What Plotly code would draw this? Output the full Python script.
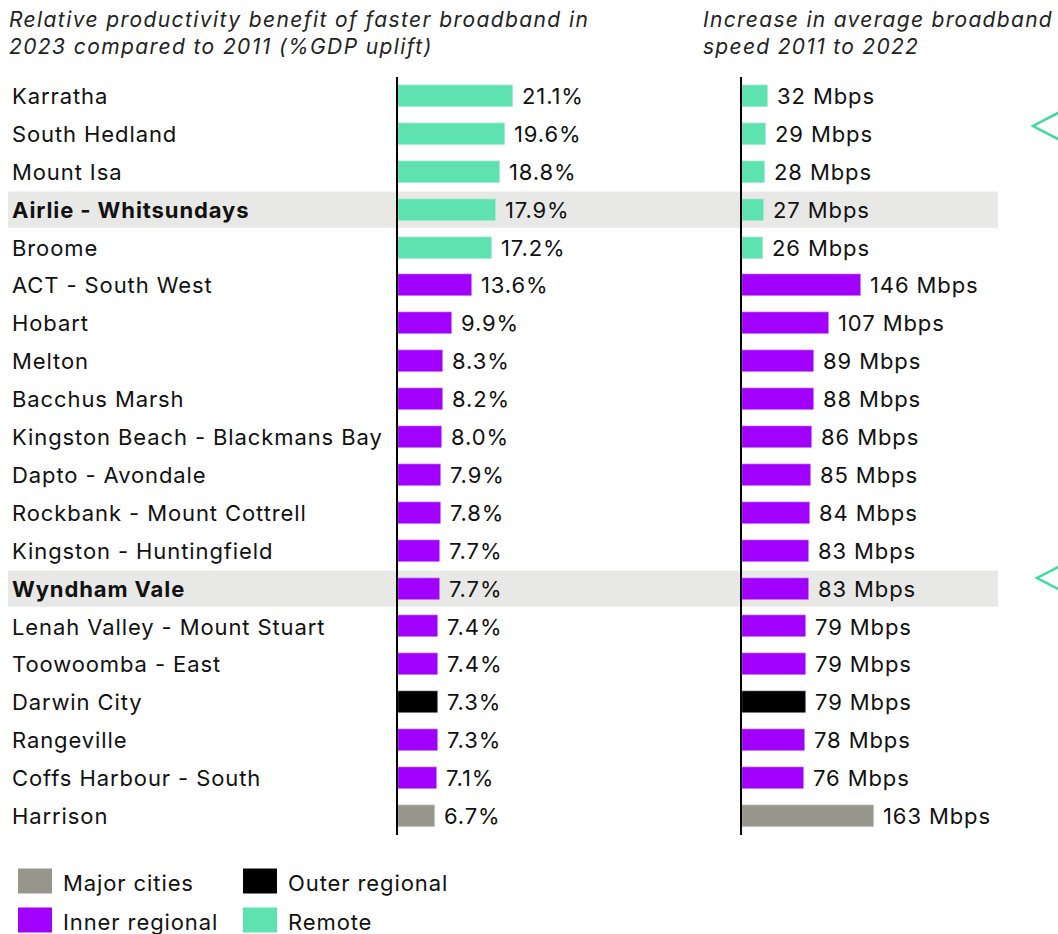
import plotly.graph_objects as go

regions = ["Karratha", "South Hedland", "Mount Isa", "Airlie - Whitsundays", "Broome",
           "ACT - South West", "Hobart", "Melton", "Bacchus Marsh", "Kingston Beach - Blackmans Bay",
           "Dapto - Avondale", "Rockbank - Mount Cottrell", "Kingston - Huntingfield", "Wyndham Vale",
           "Lenah Valley - Mount Stuart", "Toowoomba - East", "Darwin City", "Rangeville",
           "Coffs Harbour - South", "Harrison"]
gdp_uplift = [21.1, 19.6, 18.8, 17.9, 17.2, 13.6, 9.9, 8.3, 8.2, 8.0, 7.9, 7.8, 7.7, 7.7,
              7.4, 7.4, 7.3, 7.3, 7.1, 6.7]
speed_increase = [32, 29, 28, 27, 26, 146, 107, 89, 88, 86, 85, 84, 83, 83, 79, 79, 79, 78, 76, 163]
remoteness = ["Remote"] * 5 + ["Inner regional"] * 11 + ["Outer regional"] + ["Inner regional"] * 2 + ["Major cities"]
highlighted = ["Airlie - Whitsundays", "Wyndham Vale"]
title_left = "Relative productivity benefit of faster broadband in<br>2023 compared to 2011 (%GDP uplift)"
title_right = "Increase in average broadband<br>speed 2011 to 2022"

colors = {"Major cities": "#97968c", "Outer regional": "#000000",
          "Inner regional": "#a100ff", "Remote": "#5ee3b0"}
legend_order = [["Major cities", "Outer regional"], ["Inner regional", "Remote"]]

W, H = 1058, 934
FONT = "Inter"
LS = 0.9   # letter spacing for labels
TLS = 1.4  # letter spacing for titles


def px(x):
    return x / W


def py(y):
    return 1 - y / H


def sp(text, ls=LS):
    return f'<span style="letter-spacing:{ls}px">{text}</span>'


n = len(regions)
ypos = list(range(n))
bar_cols = [colors[r] for r in remoteness]

fig = go.Figure()
fig.add_trace(go.Bar(x=gdp_uplift, y=ypos, orientation="h", marker_color=bar_cols,
                     width=0.58, xaxis="x", yaxis="y", showlegend=False, hoverinfo="skip"))
fig.add_trace(go.Bar(x=speed_increase, y=ypos, orientation="h", marker_color=bar_cols,
                     width=0.58, xaxis="x2", yaxis="y2", showlegend=False, hoverinfo="skip"))

lab_font = dict(family=FONT, size=22, color="#111")
annotations = []
shapes = []
for i, name in enumerate(regions):
    bold = name in highlighted
    if bold:
        shapes.append(dict(type="rect", xref="paper", yref="y", x0=px(8), x1=px(998),
                           y0=i - 0.48, y1=i + 0.48, fillcolor="#e8e8e6", line_width=0,
                           layer="below"))
    annotations.append(dict(xref="paper", yref="y", x=px(10), y=i, xanchor="left",
                            yanchor="middle", showarrow=False,
                            text=sp(f"<b>{name}</b>" if bold else name),
                            font=lab_font))
    annotations.append(dict(xref="x", yref="y", x=gdp_uplift[i], y=i, xanchor="left",
                            yanchor="middle", xshift=7, showarrow=False,
                            text=sp(f"{gdp_uplift[i]:.1f}%"), font=lab_font))
    annotations.append(dict(xref="x2", yref="y2", x=speed_increase[i], y=i, xanchor="left",
                            yanchor="middle", xshift=7, showarrow=False,
                            text=sp(f"{speed_increase[i]} Mbps"), font=lab_font))

# titles
title_font = dict(family=FONT, size=21, color="#222", style="italic")
annotations.append(dict(xref="paper", yref="paper", x=px(7), y=py(5), xanchor="left",
                        yanchor="top", showarrow=False, align="left",
                        text=sp(title_left, TLS), font=title_font))
annotations.append(dict(xref="paper", yref="paper", x=px(701), y=py(5), xanchor="left",
                        yanchor="top", showarrow=False, align="left",
                        text=sp(title_right, 1.3), font=title_font))

# legend
leg_x = [18, 243]
leg_y = [881, 920]
for r, row in enumerate(legend_order):
    for c, cat in enumerate(row):
        x0 = leg_x[c]
        yc = leg_y[r]
        shapes.append(dict(type="rect", xref="paper", yref="paper", x0=px(x0), x1=px(x0 + 34),
                           y0=py(yc + 12.5), y1=py(yc - 12.5), fillcolor=colors[cat], line_width=0))
        annotations.append(dict(xref="paper", yref="paper", x=px(x0 + 43), y=py(yc + 1.5),
                                xanchor="left", yanchor="middle", showarrow=False, text=sp(cat),
                                font=lab_font))

# chevrons
for tipx, tipy in [(1033, 126), (1037, 578)]:
    path = (f"M {px(tipx + 48)} {py(tipy - 25)} L {px(tipx)} {py(tipy)} "
            f"L {px(tipx + 48)} {py(tipy + 25)}")
    shapes.append(dict(type="path", xref="paper", yref="paper", path=path,
                       line=dict(color="#3ddc97", width=2.5)))

ydom = [py(77.05 + 757.9), py(77.05)]
yax = dict(range=[n - 0.5, -0.5], domain=ydom, showticklabels=False, showgrid=False,
           zeroline=False, showline=True, linecolor="#000", linewidth=2, ticks="")
fig.update_layout(
    width=W, height=H, margin=dict(l=0, r=0, t=0, b=0),
    paper_bgcolor="white", plot_bgcolor="rgba(0,0,0,0)",
    xaxis=dict(domain=[px(398), px(700)], range=[0, 302 / 5.45], visible=False),
    xaxis2=dict(domain=[px(742), 1.0], range=[0, 316 / 0.8125], visible=False, anchor="y2"),
    yaxis=dict(**yax, anchor="x"),
    yaxis2=dict(**yax, anchor="x2"),
    annotations=annotations, shapes=shapes, bargap=0,
)
fig.write_html("out.html", config={"displayModeBar": False},
               post_script="document.body.style.margin='0';document.body.style.overflow='hidden';")
